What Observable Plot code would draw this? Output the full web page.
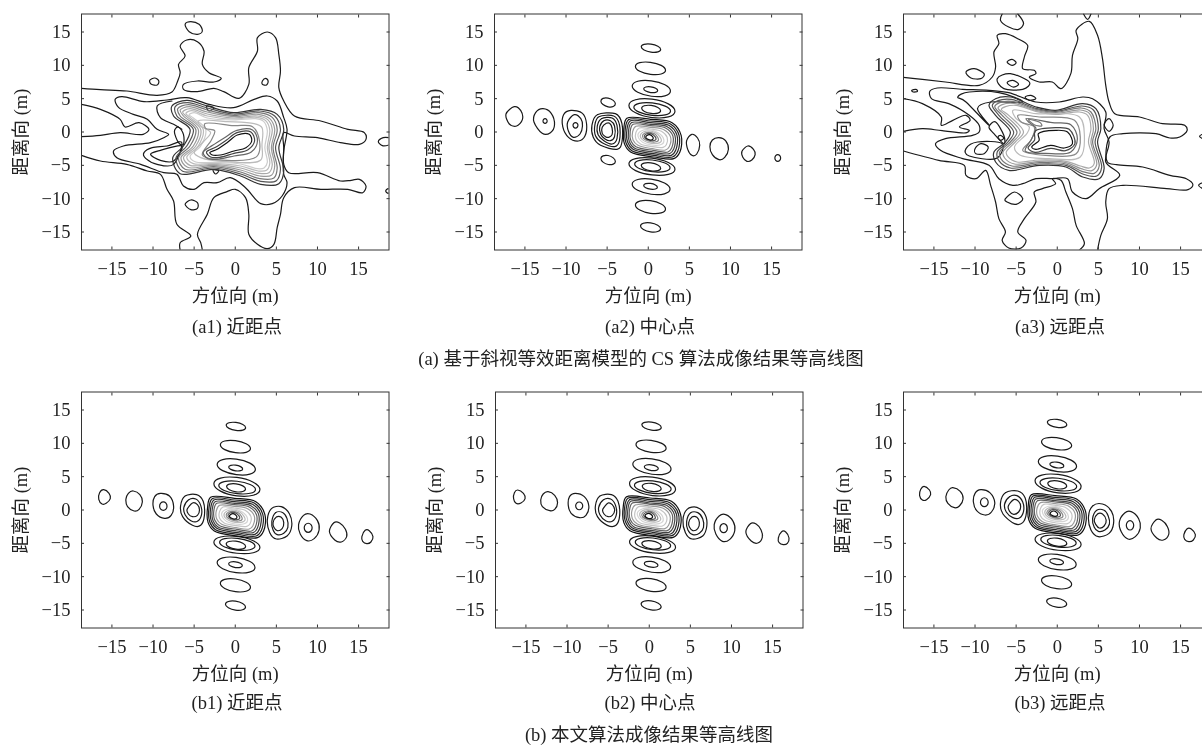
<!DOCTYPE html>
<html><head><meta charset="utf-8">
<script src="https://cdn.jsdelivr.net/npm/d3@7"></script>
<script src="https://cdn.jsdelivr.net/npm/@observablehq/plot@0.6"></script>
<style>
html,body{margin:0;padding:0;background:#fff;width:1202px;height:745px;overflow:hidden}
#page{position:relative;width:1202px;height:745px;overflow:hidden;filter:blur(.4px);font-family:"Liberation Serif","Noto Sans CJK SC",serif;color:#222}
.panel{position:absolute}
.cap{position:absolute;transform:translateX(-50%);white-space:nowrap;font-size:18.5px;line-height:20px}
</style></head><body><div id="page"></div>
<script>
// axis values
const xTicks=[-15,-10,-5,0,5,10,15];
const yTicks=[-15,-10,-5,0,5,10,15];
const xDomain=[-18.7,18.7];
const yDomain=[-17.7,17.7];
const xTitle="方位向 (m)";
const yTitle="距离向 (m)";

// ---- (a1) contours, flat x,y lists
const a1Open=[
[-18.7,6.55,-16.4,6.35,-13.2,6.15,-9.5,5.5,-7.7,6,-7,7.65,-6.7,8.9,-6.9,10.15,-6.1,11.4,-6.7,12.9,-5.9,13.8,-4.6,13.55,-3.8,12.15,-4,10.15,-3.2,8.9,-1.7,8.05,-2.6,7.5,-4.6,7.65,-6.3,7.15,-6.3,6.4,-4.6,6.05,-2.6,6.55,-1.4,6.05,.45,5.05,1.65,7.15,1.65,9.65,2.7,12.15,2.7,14.15,3.9,15,4.9,14.15,5.3,11.65,5.5,9.15,5.3,6.65,5.9,4.65,7.2,2.4,10.4,1.65,13.7,.4,15.7,-.1,15.9,-1.1,15.1,-1.85,12.8,-1.6,10,-.85,7.2,-.6,5.9,-.1,5.9,-2.35,5.9,-4.85,6.5,-6.1,10,-6.1,12.8,-7.35,14.1,-7.25,15.1,-7.1,15.9,-8.1,15.5,-9.1,13.7,-8.6,10.4,-8.6,7.2,-8.35,5.9,-9.85,5.5,-12.35,5.1,-14.35,4.7,-16.85,3.9,-17.5,2.7,-16.85,1.65,-15.35,1.65,-12.35,1.25,-9.85,0,-8.6,-1,-8.95,-2.6,-9.85,-3.4,-12.35,-4.6,-15.35,-4.2,-16.6,-4,-17.7],
[-6.7,-17.7,-6.7,-16.6,-5.4,-15.6,-7.1,-13.85,-7.5,-10.35,-8.3,-8.6,-9.1,-6.35,-10.7,-5.85,-13.2,-4.85,-16.4,-4.35,-18.7,-3.5],
[-18.7,4.15,-16.4,3.4,-14,1.9,-13.4,.75,-11.7,1.4,-10.5,.4,-11.2,-.35,-14,-.1,-16.4,-.5,-18.7,-.7],
[-7.7,4.65,-9.5,3.9,-9.1,2.15,-7.5,1.15,-6.5,.4],
[18.7,-.85,18,-.85,17.4,-1.45,17.9,-2.05,18.7,-1.95]
];
const a1Closed=[
[-14.6,4.9,-13.8,5.3,-11.1,4.55,-8.3,4.8,-5.9,5.15,-3.2,4.15,-.2,3.65,2.3,4.9,3.9,5.4,5.1,4.65,5.9,2.15,6.3,.4,5.9,-2.85,5.9,-6.35,6.3,-7.6,5.7,-9.6,4.5,-10.75,3.1,-10.75,1.25,-8.35,-.6,-6.85,-2.2,-7.6,-3.8,-7.6,-5,-8.6,-6.3,-8.1,-7.1,-6.35,-8.7,-6.1,-11.5,-4.85,-14.4,-3.85,-14.8,-2.85,-13.6,-2.1,-10.3,-1.6,-8.7,-.85,-8.1,-.35,-9.5,.4,-10.7,1.9,-12.4,2.65,-14.2,3.7],
[-11.1,-3.1,-10.1,-2.35,-8.3,-2.1,-6.5,-1.6,-7.5,-4.85,-9.5,-4.85,-10.9,-3.95],
[-10.3,-3.35,-9.1,-2.75,-6.5,-2.1,-7.5,-4.35,-9.1,-4.25],
[-7.4,.05,-6.9,.75,-6.3,-.35,-6.3,-1.85,-6.9,-1.6],
[-10.4,7.75,-9.8,8.1,-9.3,7.65,-9.5,7.05,-10.2,7.15],
[3.3,7.65,3.7,8.05,4,7.65,3.8,7.05,3.3,7.15],
[-6.1,16.15,-5.4,16.55,-4.4,16.15,-4,15.15,-4.6,14.65,-5.6,15.05],
[-6.1,-10.85,-5.4,-10.2,-4.6,-10.6,-4.6,-11.45,-5.4,-11.65],
[18.3,-8.85,18.6,-8.5,18.9,-8.85,18.6,-9.2],
[-3.5,3.9,-2.6,3.65,-3.2,3.15],
[-2.7,-5.7,-2,-5.8,-2.4,-6.3]
];
const a1Rings=[
[-7.7,3.9,-5.9,4.75,-3.4,3.9,-.2,2.9,3.1,3.4,5.1,2.65,5.9,.4,5.3,-2.35,5.9,-5.85,5.3,-7.75,3.1,-7.85,.65,-6.6,-2.6,-5.6,-6.7,-6.25,-7.6,-3.85,-6.3,-2.1,-5.5,.4,-7.5,2.4],
[-7.3,3.8,-5.8,4.4,-3.4,3.6,-.2,2.7,3,3.15,4.8,2.4,5.5,.4,4.9,-2.35,5.5,-5.6,5,-7.3,3.1,-7.4,.65,-6.3,-2.6,-5.4,-6.4,-5.9,-7.2,-3.85,-5.9,-2.1,-5.1,.4,-7.1,2.4],
[-7,3.5,-5.7,4.1,-3.4,3.3,-.2,2.5,2.9,2.9,4.5,2.2,5.1,.4,4.6,-2.35,5.1,-5.4,4.7,-6.9,3,-7,.65,-6,-2.6,-5.2,-6.1,-5.6,-6.9,-3.85,-5.5,-2.1,-4.8,.4,-6.7,2.4],
[-6.7,3.3,-5.6,3.8,-3.4,3,-.2,2.3,2.8,2.65,4.2,2,4.8,.4,4.4,-2.35,4.8,-5.1,4.4,-6.5,3,-6.6,.65,-5.7,-2.6,-5,-5.8,-5.3,-6.6,-3.85,-5.1,-2.1,-4.5,.4,-6.3,2.4],
[-6.4,3,-5.5,3.5,-3.4,2.7,-.2,2.1,2.7,2.4,3.95,1.85,4.5,.4,4.1,-2.35,4.5,-4.95,4.1,-6.1,2.9,-6.2,.65,-5.4,-2.6,-4.85,-5.5,-5,-6.3,-3.85,-4.8,-2.1,-4.2,.4,-5.9,2.3],
[-6,2.8,-5.3,3.2,-3.4,2.4,-.2,1.95,2.6,2.2,3.7,1.7,4.2,.3,3.9,-2.35,4.2,-4.7,3.8,-5.75,2.8,-5.85,.65,-5.1,-2.6,-4.7,-5.1,-4.75,-5.9,-3.8,-4.5,-2.1,-3.9,.4,-5.5,2.2],
[-5.6,2.6,-5,2.9,-3.4,2.1,-.2,1.8,2.5,2,3.45,1.6,3.9,.2,3.6,-2.35,3.9,-4.55,3.5,-5.4,2.7,-5.5,.65,-4.8,-2.6,-4.55,-4.8,-4.5,-5.5,-3.7,-4.2,-2.1,-3.6,.4,-5.1,2.1]
];
const a1Dip=[
[-4.5,1.65,-1,1.55,2.3,1.25,3.25,.65,3.25,-1.85,3.1,-4.2,-1,-4.45,-4.2,-3.85,-5,-3.1,-3.8,-1.35,-3,-.1,-4.2,.9],
[-3.7,1.25,-.2,.95,2.1,.8,2.95,-1.35,2.6,-3.7,-1,-4.25,-4,-3.45,-2.9,-1.2,-2.5,.2,-3.6,.55],
[-3.9,-3.05,-2.75,-2,-1.3,-.85,.2,.25,2.1,.3,2.7,-1.35,1.95,-3,-.15,-3.6,-2,-4.05,-3.3,-4],
[-3.5,-3,-2.4,-2.3,-1.1,-1.25,.2,-.1,1.9,0,2.35,-1.35,1.55,-2.65,-.15,-3.2,-1.9,-3.8,-3,-3.75],
[-3.1,-3.1,-2.2,-2.6,-1,-1.6,.25,-.45,1.7,-.35,2,-1.35,1.3,-2.35,-.15,-2.85,-1.8,-3.45,-2.8,-3.45]
];

// ---- (a3)
const a3Open=[
[-18.7,8.2,-16.4,7.9,-13.6,7.5,-9.5,7,-7.9,8.25,-7.5,9.75,-7.7,12,-7.1,13.25,-7.3,14.5,-6.3,14.75,-4.8,14,-3.6,13,-4,11.25,-4.2,9.5,-2.8,9.25,-2.6,8.75,-3.4,8.25,-2.2,7.5,-.6,7.5,.45,6.5,1.65,8.75,1.85,11.5,2.5,14,2.3,15.25,3.9,16.6,4.9,14.5,5.5,11,5.9,7,6.3,4.5,7,2.75,10,2.25,12.8,1.25,15.5,1,15.8,.25,14.9,-.75,13.7,-.9,12,-.25,8,-.25,6.4,-.75,6.1,-4.5,7.2,-4.9,10.4,-5.25,13.7,-6.5,15.7,-7,16.5,-7.9,15.9,-8.65,13.3,-8.5,8,-8,6.3,-8.5,5.9,-10.5,6.1,-13,5.3,-15.5,4.9,-17.7],
[2.7,-17.7,3.3,-16.75,2.3,-14,1.85,-11.5,1.05,-9,.45,-7.25,-.6,-7,-.2,-7.75,-1.8,-8.5,-2.8,-9,-2.6,-10.5,-4,-13,-4.8,-15,-3.8,-16.25,-4.4,-17.4,-5.9,-17.4,-6.7,-16.25,-6.3,-15,-7.1,-13,-7.5,-10.5,-8.1,-8,-8.7,-5.75,-9.9,-7,-11.1,-6.5,-11.3,-5,-14.4,-4.25,-18.7,-2.85],
[-18.7,5,-16.4,4.25,-14.1,2.25,-14.1,1,-12.7,1.75,-11.1,2.5,-10.6,1.75,-11.9,.75,-10.7,.25,-11,-.1,-14,.2,-16.4,.5,-18.7,.1],
[-6.7,17.7,-6.9,16.75,-5.9,15.75,-4.7,15.4,-4.1,16.25,-4.8,17.7],
[3.2,17.7,3.7,16.9,4.1,17.7],
[18.1,-.1,17.3,-.65,18.1,-1.25],
[18.1,-7.4,17.2,-8,18.1,-8.75]
];
const a3Closed=[
[-15.5,6.1,-14.6,6.6,-11.5,6.4,-8.3,6.25,-5.9,5.9,-2.6,4.5,.25,4.5,3.1,5.25,4.3,5,5.9,3,5.7,.5,6.3,-1.5,5.9,-4.5,7.6,-6.5,5.1,-8.5,3.5,-10,1.85,-9,1.25,-7,-.6,-7,-2.6,-7,-4.2,-7.75,-5.4,-8,-7.1,-7,-8.3,-5,-11.5,-4,-14.2,-2.75,-14.8,-1.75,-13.6,-1,-10.3,-.5,-9.5,0,-9.5,1,-10.7,2.5,-13.2,4.25,-15.3,5],
[-12.1,5.25,-10.7,6,-7.1,5.9,-4.2,4.5,-8.1,4.5,-9.7,3.5,-8.3,1,-11.1,4.5],
[-11.1,-2.5,-9.7,-1.5,-6.7,-1.75,-7.5,-4,-10.7,-3.6],
[-10,-2.5,-9.3,-1.75,-8.4,-2.25,-8.9,-3.25,-9.9,-3.25],
[-8.3,.75,-7.5,1.5,-6.5,-.5,-6.5,-1.75,-7.7,-.25],
[-7.2,-.75,-6.9,-.5,-6.5,-.9,-6.9,-1.25],
[-11.1,9,-10.1,9.5,-8.9,8.75,-9.3,8,-10.5,8.1],
[-6.1,10.5,-5.5,10.9,-5,10.4,-5.5,10],
[-7.3,8,-5.7,8.75,-3.4,7.5,-4.2,6.4,-6.5,6.5],
[-6.1,7.4,-5.4,7.75,-4.7,7.15,-5.4,6.75],
[-17.7,6.25,-17.2,6.4,-17,6.1,-17.5,6],
[-6.3,-10,-5.2,-9,-4.2,-10,-5,-10.85,-6.1,-10.5],
[5.7,1.1,6.3,2,6.8,1,6.3,.1],
[-3.9,5.25,-3.2,5.5,-2.6,5,-3.4,4.75]
];
const a3Rings=[
[-8.3,4,-7.5,5,-5.7,5.25,-2.6,3.75,-.2,3.25,3.1,4.25,4.7,3.5,5.3,.5,4.9,-1.5,5.7,-5.5,5.1,-7,3.1,-6.75,1.05,-5.25,-2.2,-5,-5.9,-5.75,-7.5,-4.5,-7.7,-3,-6.3,-1.5,-5.7,0,-7.5,2.5],
[-7.9,4,-7.2,4.7,-5.6,4.9,-2.6,3.55,-.2,3.1,3,3.9,4.4,3.3,5,.5,4.6,-1.5,5.4,-5.3,4.8,-6.6,3.1,-6.3,1.05,-5,-2.2,-4.8,-5.7,-5.4,-7.1,-4.3,-7.3,-3,-6,-1.5,-5.3,0,-7.1,2.5],
[-7.6,3.8,-7,4.4,-5.5,4.6,-2.6,3.4,-.2,2.95,2.9,3.6,4.1,3,4.7,.5,4.3,-1.5,5.1,-5.1,4.5,-6.2,3,-5.9,1.05,-4.8,-2.2,-4.6,-5.5,-5.1,-6.8,-4.1,-7,-3,-5.7,-1.5,-4.9,0,-6.7,2.5],
[-7.2,3.6,-6.7,4.1,-5.3,4.3,-2.6,3.25,-.2,2.8,2.8,3.3,3.9,2.8,4.4,.5,4.1,-1.5,4.8,-4.9,4.2,-5.8,2.9,-5.5,1.05,-4.6,-2.2,-4.4,-5.2,-4.8,-6.4,-3.9,-6.6,-3,-5.4,-1.5,-4.5,0,-6.3,2.5],
[-6.8,3.4,-6.3,3.8,-5,4,-2.6,3.1,-.2,2.65,2.7,3,3.7,2.5,4.1,.5,3.8,-1.5,4.5,-4.7,3.9,-5.4,2.8,-5.1,1.05,-4.4,-2.2,-4.2,-4.9,-4.5,-6,-3.7,-6.2,-3,-5.1,-1.5,-4.1,0,-5.9,2.5]
];
const a3Dip=[
[-5.4,3.25,-2.6,2.75,2.7,2.25,3.3,-.5,2.8,-3.75,-1,-4,-4.6,-3.4,-5.2,-2.25,-3.7,-.25,-3.4,.75,-5,2],
[-4.8,2.5,-2.2,2.25,2.1,1.75,2.8,-.75,2.3,-3.25,-1.4,-3.5,-4.2,-2.75,-3.2,-1.25,-2.8,.75,-4.4,1.5],
[-3.8,2,-.6,1.4,1.65,1.1,2.45,-1,1.65,-3,-1.4,-3.2,-3.9,-2.85,-3.1,-1,-2.6,.6,-3.4,1.4],
[-2.7,.1,-.2,.65,1.45,.4,2.15,-1.75,1,-2.8,-.8,-2.45,-2.7,-3.05,-3.55,-2.4,-2.75,-1.2],
[-2.3,-.25,-.2,.25,1.25,0,1.85,-1.75,.85,-2.4,-.8,-2,-2.6,-2.6,-3.1,-2.25,-2.2,-1.25],
[-3.5,1.9,-2.2,1.5,-1.9,.9,-2.8,1.1]
];

// ---- range-direction side lobes and main lobe, read from (a2); the other panels sit at the offsets below
const vertLobes=[
[-.85,12.77,-.51,13.14,.33,13.18,1.17,12.87,1.51,12.39,1.17,12.02,.33,11.98,-.51,12.29],
[-1.56,9.84,-1.03,10.4,.27,10.45,1.57,9.99,2.1,9.26,1.57,8.7,.27,8.65,-1.03,9.11],
[-1.95,6.89,-1.28,7.61,.38,7.68,2.03,7.08,2.7,6.15,2.03,5.43,.38,5.36,-1.28,5.96],
[-.55,6.49,-.3,6.75,.3,6.78,.9,6.56,1.15,6.21,.9,5.95,.3,5.92,-.3,6.14],
[-2.35,3.99,-1.54,4.84,.45,4.93,2.44,4.22,3.25,3.11,2.44,2.26,.45,2.17,-1.54,2.88],
[-1.75,3.72,-1.1,4.3,.48,4.36,2.06,3.88,2.71,3.14,2.06,2.56,.48,2.5,-1.1,2.98],
[-.8,3.57,-.47,3.94,.35,3.98,1.17,3.67,1.5,3.19,1.17,2.82,.35,2.78,-.47,3.09],
[-2.35,-4.78,-1.54,-4,.45,-3.92,2.44,-4.57,3.25,-5.58,2.44,-6.36,.45,-6.44,-1.54,-5.79],
[-1.65,-4.8,-1.03,-4.25,.5,-4.2,2.03,-4.65,2.65,-5.36,2.03,-5.91,.5,-5.96,-1.03,-5.51],
[-.85,-5.04,-.51,-4.67,.33,-4.63,1.17,-4.94,1.51,-5.42,1.17,-5.79,.33,-5.83,-.51,-5.52],
[-1.95,-7.84,-1.28,-7.13,.35,-7.06,1.98,-7.65,2.65,-8.56,1.98,-9.27,.35,-9.34,-1.28,-8.75],
[-.55,-8.01,-.31,-7.75,.28,-7.72,.87,-7.94,1.11,-8.29,.87,-8.55,.28,-8.58,-.31,-8.36],
[-1.56,-10.95,-1.03,-10.36,.27,-10.3,1.57,-10.79,2.1,-11.55,1.57,-12.14,.27,-12.2,-1.03,-11.71],
[-.94,-14.09,-.59,-13.68,.28,-13.63,1.15,-13.98,1.5,-14.51,1.15,-14.92,.28,-14.97,-.59,-14.62]
];
const coreRings=[
[-2.97,.5,-2.6,2.05,.3,1.9,2.9,1.4,4,-.5,3.85,-3,3.1,-4,.7,-3.75,-2.15,-3,-2.9,-1.75],
[-2.8,.4,-2.4,1.85,.3,1.65,2.7,1.2,3.75,-.5,3.6,-2.85,2.95,-3.75,.7,-3.5,-2,-2.8,-2.7,-1.65],
[-2.6,.3,-2.2,1.65,.3,1.4,2.5,1,3.5,-.5,3.35,-2.7,2.8,-3.5,.6,-3.25,-1.85,-2.6,-2.5,-1.55],
[-2.4,.2,-2.05,1.4,.3,1.15,2.3,.8,3.25,-.55,3.1,-2.55,2.6,-3.25,.6,-3,-1.7,-2.4,-2.3,-1.45],
[-2.2,.1,-1.85,1.15,.3,.95,2.1,.6,3,-.6,2.85,-2.4,2.4,-3,.6,-2.75,-1.5,-2.2,-2.1,-1.35],
[-1.9,.05,-1.5,.85,.3,.7,1.9,.35,2.7,-.7,2.55,-2.2,2.1,-2.7,.5,-2.5,-1.25,-2,-1.85,-1.2],
[-1.5,-.05,-1.1,.6,.3,.45,1.6,.1,2.3,-.8,2.2,-1.9,1.8,-2.3,.5,-2.2,-.95,-1.8,-1.5,-1.1],
[-1.2,-.2,-.2,.35,1.2,-.1,1.9,-1.2,1.4,-1.95,-.2,-1.8,-1,-1.2],
[-.9,-.3,-.1,.15,1,-.2,1.6,-1.2,1.1,-1.7,-.1,-1.55,-.8,-1.05],
[-.65,-.4,-.05,-.05,.8,-.3,1.25,-1.15,.8,-1.5,0,-1.35,-.6,-.95],
[-.45,-.5,0,-.2,.6,-.4,.95,-1.05,.6,-1.3,0,-1.2,-.4,-.9],
[-.2,-.55,.15,-.4,.5,-.65,.6,-1,.3,-1.2,-.1,-1.05,-.3,-.8]
];
const vertOffset={a2:[0,0],b1:[-.25,-.05],b2:[-.05,0],b3:[-.35,.4]};
const coreOffset={a2:[0,0],b1:[-.4,-.15],b2:[-.2,-.1],b3:[-.55,.25]};

// azimuth side lobes per panel
const a2Side=[
[-5.76,4.63,-5.5,5.04,-4.88,5.08,-4.26,4.74,-4,4.23,-4.26,3.82,-4.88,3.78,-5.5,4.12],
[-5.76,-3.99,-5.5,-3.58,-4.88,-3.53,-4.26,-3.88,-4,-4.41,-4.26,-4.82,-4.88,-4.87,-5.5,-4.52],
[-16.3,3.8,-15.5,3.2,-15.3,1.9,-16,.9,-16.9,1.2,-17.3,2.7],
[-12.8,3.5,-11.8,2.8,-11.4,1.1,-11.9,-.1,-12.9,-.2,-13.9,1.5,-13.7,2.9],
[-12.3,1.65,-12.37,1.9,-12.55,2,-12.73,1.9,-12.8,1.65,-12.73,1.4,-12.55,1.3,-12.37,1.4],
[-9.4,3.25,-8,2.8,-7.5,1.2,-7.7,-.6,-8.5,-1.35,-9.7,-.8,-10.4,.8,-10.3,2.6],
[-9,2.6,-8.2,2,-8,.9,-8.3,-.3,-9.1,-.8,-9.7,.1,-9.8,1.5],
[-8.55,1,-8.64,1.29,-8.85,1.42,-9.06,1.29,-9.15,1,-9.06,.71,-8.85,.58,-8.64,.71],
[-6.85,1,-6.2,2.6,-4,2.75,-3.2,1.25,-3.2,-1.5,-3.8,-2.6,-5.8,-2,-6.7,-.75],
[-6.5,1,-6,2.3,-4.2,2.4,-3.5,1.1,-3.5,-1.3,-4.1,-2.2,-5.6,-1.6,-6.4,-.6],
[-6.2,.9,-5.7,2,-4.4,2.1,-3.8,1,-3.8,-1,-4.4,-1.8,-5.4,-1.3,-6.1,-.4],
[-5.9,.8,-5.4,1.7,-4.6,1.7,-4.1,.9,-4.1,-.7,-4.6,-1.3,-5.3,-1,-5.8,-.3],
[-5.6,.7,-5.1,1.3,-4.7,1.3,-4.4,.6,-4.4,-.4,-4.8,-.8,-5.2,-.7,-5.6,-.2],
[5.3,-.35,6,-.9,6.26,-2,5.9,-3.3,5.3,-3.5,4.8,-2.6,4.67,-1.3],
[8.6,-.85,9.4,-1.3,9.75,-2.6,9.3,-3.8,8.6,-4.15,7.8,-3.4,7.5,-2.2,7.8,-1.2],
[12.1,-2.1,12.8,-2.6,13,-3.4,12.6,-4.2,12,-4.4,11.5,-3.8,11.4,-2.9],
[16.1,-3.9,16,-3.55,15.75,-3.4,15.5,-3.55,15.4,-3.9,15.5,-4.25,15.75,-4.4,16,-4.25]
];
const b1Side=[
[-16,3.05,-15.35,2.5,-15.2,1.7,-15.7,1,-16.2,.9,-16.6,1.6,-16.5,2.6],
[-12.4,2.85,-11.6,2.3,-11.3,1.2,-11.7,.1,-12.3,-.15,-13.1,.5,-13.3,1.6,-13,2.5],
[-9.1,2.5,-8,2.1,-7.5,.6,-7.8,-.8,-8.6,-1.25,-9.6,-.6,-10,.7,-9.8,2],
[-8.3,.58,-8.43,1.02,-8.75,1.21,-9.07,1.02,-9.2,.58,-9.07,.14,-8.75,-.05,-8.43,.14],
[-6.65,.6,-6.1,2.1,-4.7,2.3,-3.9,1.3,-3.75,-.8,-4.2,-2.3,-5.2,-2.3,-6.4,-1],
[-6.25,.4,-5.7,1.5,-4.8,1.65,-4.2,.7,-4.1,-.7,-4.6,-1.7,-5.4,-1.6,-6.1,-.7],
[-5.85,.1,-5.2,1.05,-4.6,.8,-4.35,0,-4.6,-.8,-5.2,-1,-5.7,-.6],
[3.9,-1.5,4.4,.2,5.6,.5,6.6,-.6,6.87,-2.4,6.3,-3.9,5,-4.35,4.2,-3.4],
[4.45,-1.7,4.9,-.4,5.8,-.4,6.3,-1.3,6.4,-2.6,5.9,-3.5,5.1,-3.7,4.6,-3],
[4.6,-1.9,5,-1.05,5.6,-1.1,5.9,-1.9,5.7,-2.8,5.1,-3.1,4.7,-2.6],
[7.7,-2.2,8.3,-.8,9.1,-.6,10,-1.6,10.2,-3,9.6,-4.3,8.7,-4.6,7.9,-3.6],
[9.35,-2.67,9.21,-2.19,8.87,-1.99,8.53,-2.19,8.39,-2.67,8.53,-3.15,8.87,-3.35,9.21,-3.15],
[11.45,-3.2,12,-1.9,12.7,-1.95,13.4,-2.9,13.55,-4,12.9,-4.8,12.1,-4.5],
[15.4,-4,15.8,-3.05,16.3,-3.1,16.75,-4,16.5,-4.8,16,-5.05,15.5,-4.7]
];
const b2Side=[
[-16,3,-15.3,2.5,-15.1,1.7,-15.6,1.05,-16.2,1,-16.5,1.7,-16.4,2.6],
[-12.3,2.75,-11.5,2.2,-11.15,1.1,-11.5,.1,-12.1,-.1,-13,.5,-13.2,1.5,-12.9,2.4],
[-9,2.5,-7.9,2,-7.35,.6,-7.7,-.8,-8.5,-1.15,-9.5,-.5,-9.85,.7,-9.7,2],
[-8.09,.62,-8.22,1.03,-8.52,1.2,-8.82,1.03,-8.95,.62,-8.82,.21,-8.52,.04,-8.22,.21],
[-6.55,.6,-6,2.1,-4.6,2.3,-3.8,1.3,-3.6,-.8,-4.05,-2.3,-5.1,-2.3,-6.3,-1],
[-6.15,.4,-5.6,1.5,-4.7,1.65,-4.1,.7,-4,-.7,-4.5,-1.7,-5.3,-1.6,-6,-.7],
[-5.65,.1,-5,1.05,-4.5,.8,-4.2,0,-4.5,-.8,-5,-1,-5.5,-.6],
[4.1,-1.5,4.6,.1,5.8,.4,6.8,-.7,7,-2.4,6.5,-3.9,5.2,-4.35,4.4,-3.4],
[4.55,-1.7,5,-.45,5.9,-.4,6.5,-1.3,6.6,-2.6,6.1,-3.5,5.3,-3.7,4.7,-3],
[4.8,-1.9,5.2,-1.05,5.8,-1.1,6.1,-1.9,5.9,-2.8,5.3,-3.1,4.9,-2.6],
[7.9,-2.2,8.5,-.9,9.3,-.7,10.2,-1.7,10.4,-3.1,9.8,-4.4,8.9,-4.7,8.1,-3.6],
[9.5,-2.72,9.37,-2.25,9.05,-2.05,8.73,-2.25,8.6,-2.72,8.73,-3.19,9.05,-3.39,9.37,-3.19],
[11.75,-3.3,12.3,-2.05,13,-2.1,13.6,-3,13.75,-4.1,13.2,-4.95,12.4,-4.65],
[15.7,-4.2,16.1,-3.25,16.6,-3.3,17,-4.2,16.8,-5,16.3,-5.2,15.8,-4.9]
];
const b3Side=[
[-16.2,3.55,-15.55,3,-15.4,2.3,-15.9,1.55,-16.4,1.5,-16.75,2.2,-16.6,3.1],
[-12.7,3.35,-11.8,2.8,-11.45,1.7,-11.9,.6,-12.5,.35,-13.3,1,-13.55,2,-13.2,3],
[-9.3,3.05,-8.2,2.6,-7.6,1.1,-8,-.3,-8.8,-.75,-9.8,-.1,-10.2,1.2,-10,2.5],
[-8.4,1.17,-8.54,1.64,-8.87,1.84,-9.2,1.64,-9.34,1.17,-9.2,.7,-8.87,.5,-8.54,.7],
[-6.9,1.1,-6.3,2.6,-4.8,2.85,-3.9,1.8,-3.75,-.4,-4.2,-1.9,-5.2,-2.05,-6.6,-.6],
[-6.4,.9,-5.8,2,-4.9,2.15,-4.2,1.2,-4.1,-.2,-4.6,-1.2,-5.4,-1.15,-6.2,-.3],
[-5.95,.6,-5.3,1.55,-4.7,1.3,-4.45,.5,-4.7,-.3,-5.3,-.65,-5.8,-.2],
[3.8,-1,4.3,.6,5.5,.9,6.6,-.2,6.85,-2,6.3,-3.5,5,-4,4.1,-3],
[4.3,-1.3,4.8,-.05,5.7,-.05,6.2,-.9,6.35,-2.1,5.8,-3,5,-3.2,4.5,-2.6],
[4.5,-1.5,4.9,-.6,5.5,-.6,5.95,-1.5,5.7,-2.4,5.1,-2.7,4.7,-2.2],
[7.55,-1.8,8.2,-.45,9,-.25,9.9,-1.3,10.1,-2.7,9.5,-4,8.6,-4.35,7.8,-3.3],
[9.3,-2.3,9.17,-1.81,8.85,-1.6,8.53,-1.81,8.4,-2.3,8.53,-2.79,8.85,-3,9.17,-2.79],
[11.4,-2.8,12,-1.5,12.7,-1.55,13.4,-2.5,13.55,-3.7,12.9,-4.5,12.1,-4.2],
[15.4,-3.7,15.8,-2.8,16.3,-2.85,16.8,-3.7,16.55,-4.5,16,-4.75,15.5,-4.4]
];

// gray levels of the nested contours
const ringShade=["#333","#555","#777","#999","#aaa","#bbb","#ccc"];
const dipShade=["#bbb","#888","#666","#444","#111","#777"];
const coreShade=["#111","#222","#2d2d2d","#444","#606060","#999","#c4c4c4","#d4d4d4","#bbb","#888","#555","#111"];

const pairs=f=>{const o=[];for(let i=0;i<f.length;i+=2)o.push([f[i],f[i+1]]);return o;};
const page=document.getElementById("page");
const LINE="#1a1a1a";

function contour(flat,closed,stroke,off=[0,0]){
  const few=flat.length<=16;
  const curve=closed?(few?"cardinal-closed":"catmull-rom-closed"):"catmull-rom";
  return Plot.line(pairs(flat),{x:d=>d[0]+off[0],y:d=>d[1]+off[1],curve,...(closed&&few?{tension:0}:{}),stroke,strokeWidth:1.2,clip:true});
}
function draw(id,left,top,marks){
  const fig=Plot.plot({
    width:396,height:316,marginLeft:81,marginRight:7.5,marginTop:13.5,marginBottom:66.5,
    x:{domain:xDomain},y:{domain:yDomain},
    style:{fontFamily:'"Liberation Serif","Noto Sans CJK SC",serif',fontSize:"18.5px",color:"#222",background:"transparent"},
    marks:[
      ...marks,
      Plot.frame({stroke:"#333",strokeWidth:1}),
      Plot.axisX({anchor:"bottom",ticks:xTicks,tickSize:-3,tickPadding:15,stroke:"#333",label:xTitle,labelAnchor:"center",labelArrow:"none",labelOffset:52}),
      Plot.axisX({anchor:"top",ticks:xTicks,tickSize:-3,fill:"none",label:null,stroke:"#333"}),
      Plot.axisY({anchor:"left",ticks:yTicks,tickSize:-3,tickPadding:14,stroke:"#333",label:yTitle,labelAnchor:"center",labelArrow:"none",labelOffset:68}),
      Plot.axisY({anchor:"right",ticks:yTicks,tickSize:-3,fill:"none",label:null,stroke:"#333"})
    ]
  });
  fig.classList.add("panel");
  fig.style.left=left+"px";fig.style.top=top+"px";
  page.appendChild(fig);
}
const caption=(text,x,y)=>{const d=document.createElement("div");d.className="cap";d.textContent=text;d.style.left=x+"px";d.style.top=y+"px";page.appendChild(d);};

function hiRes(rings,ringS,dip,dipS,open,closed){
  return [
    ...open.map(f=>contour(f,false,LINE)),
    ...closed.map(f=>contour(f,true,LINE)),
    ...rings.map((f,i)=>contour(f,true,ringS[i])),
    ...dip.map((f,i)=>contour(f,true,dipS[i]))
  ];
}
function focused(key,side){
  return [
    ...side.map(f=>contour(f,true,LINE)),
    ...vertLobes.map(f=>contour(f,true,LINE,vertOffset[key])),
    ...coreRings.map((f,i)=>contour(f,true,coreShade[i],coreOffset[key]))
  ];
}

draw("a1",0,0,hiRes(a1Rings,ringShade,a1Dip,dipShade,a1Open,a1Closed));
draw("a2",413,0,focused("a2",a2Side));
draw("a3",822,0,hiRes(a3Rings,ringShade,a3Dip,dipShade,a3Open,a3Closed));
draw("b1",0,378,focused("b1",b1Side));
draw("b2",413.5,378,focused("b2",b2Side));
draw("b3",822,378,focused("b3",b3Side));

caption("(a1) 近距点",237,317);
caption("(a2) 中心点",650,317);
caption("(a3) 远距点",1060,317);
caption("(a) 基于斜视等效距离模型的 CS 算法成像结果等高线图",641,349);
caption("(b1) 近距点",237,693);
caption("(b2) 中心点",650,693);
caption("(b3) 远距点",1060,693);
caption("(b) 本文算法成像结果等高线图",649,725);
</script></body></html>
